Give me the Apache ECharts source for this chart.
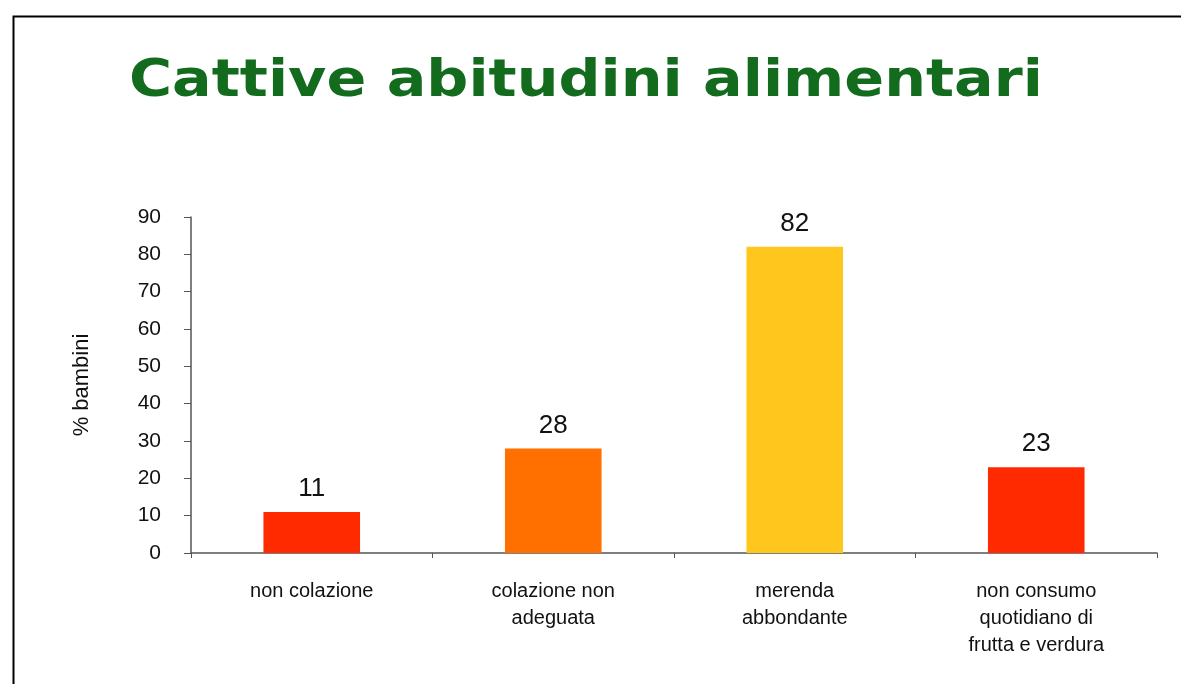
<!DOCTYPE html>
<html>
<head>
<meta charset="utf-8">
<script src="https://cdn.jsdelivr.net/npm/echarts@6/dist/echarts.min.js"></script>
<style>html,body{margin:0;padding:0;background:#fff}#c{width:1181px;height:684px}</style>
</head>
<body>
<div id="c"></div>
<script>
const categories = ['non colazione', 'colazione non\nadeguata', 'merenda\nabbondante', 'non consumo\nquotidiano di\nfrutta e verdura'];
const values = [11, 28, 82, 23];
const barColors = ['#ff2a00', '#ff7000', '#ffc61e', '#ff2a00'];
const titleText = 'Cattive abitudini alimentari';
const yAxisName = '% bambini';

const chart = echarts.init(document.getElementById('c'));
chart.setOption({
  animation: false,
  backgroundColor: '#fff',
  graphic: [{
    type: 'rect', left: 11, top: 14,
    shape: { width: 1200, height: 700 },
    style: { fill: 'none', stroke: '#000', lineWidth: 2 }
  }, {
    type: 'text', x: 129, y: 56, scaleX: 1.13,
    style: { text: titleText, font: 'bold 52px "DejaVu Sans"', fill: '#136b1e', verticalAlign: 'top', align: 'left' }
  }],
  grid: { left: 191, right: 24, top: 217, bottom: 131, containLabel: false },
  xAxis: {
    type: 'category', data: categories,
    axisLine: { lineStyle: { color: '#555', width: 1.5 } },
    axisTick: { show: true, length: 5, lineStyle: { color: '#555' } },
    axisLabel: { fontFamily: 'Liberation Sans', fontSize: 20, color: '#111', lineHeight: 27, margin: 25, interval: 0 }
  },
  yAxis: {
    type: 'value', min: 0, max: 90, interval: 10,
    name: yAxisName, nameLocation: 'middle', nameGap: 98, nameRotate: 90,
    nameTextStyle: { fontFamily: 'Liberation Sans', fontSize: 22, color: '#111' },
    splitLine: { show: false },
    axisLine: { show: true, lineStyle: { color: '#555', width: 1.5 } },
    axisTick: { show: true, length: 7, lineStyle: { color: '#555' } },
    axisLabel: { fontFamily: 'Liberation Sans', fontSize: 21, color: '#111', margin: 30 }
  },
  series: [{
    type: 'bar', data: values.map((v, i) => ({ value: v, itemStyle: { color: barColors[i] } })),
    barWidth: '40%',
    label: { show: true, position: 'top', distance: 10, fontFamily: 'Liberation Sans', fontSize: 26, color: '#111' }
  }]
});
</script>
</body>
</html>
